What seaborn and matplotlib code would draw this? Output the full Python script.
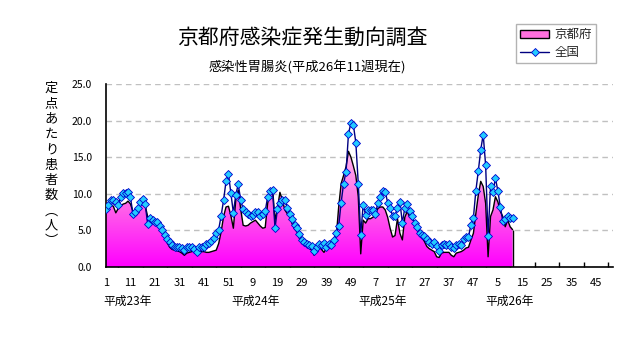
import numpy as np
import pandas as pd
import matplotlib
matplotlib.use('Agg')
import matplotlib.pyplot as plt
import seaborn as sns
from matplotlib.patches import Patch
from matplotlib.lines import Line2D
from matplotlib.colors import LinearSegmentedColormap
from matplotlib.ticker import MultipleLocator, FixedLocator, FixedFormatter
import matplotlib.transforms as mtransforms

sns.set_theme(style='white')
plt.rcParams['font.family'] = ['Noto Sans CJK JP', 'DejaVu Sans']

# ---------------- data ----------------
# 全国 (national), weekly from 平成23年 week 1 to 平成26年 week 11
national = [
    7.9, 8.5, 9.2, 9.1, 8.9, 8.5, 9.5, 10.1, 10.1, 10.3,
    9.5, 7.2, 7.5, 8.1, 8.9, 9.3, 8.6, 5.9, 6.7, 6.4,
    6.2, 6.1, 5.6, 5.0, 4.4, 3.8, 3.4, 3.0, 2.8, 2.7,
    2.8, 2.6, 2.3, 2.7, 2.8, 2.7, 2.5, 2.1, 2.8, 2.8,
    2.8, 3.1, 3.3, 3.5, 4.0, 4.7, 5.1, 7.0, 9.1, 11.7,
    12.7,
    10.1, 7.4, 9.9, 11.3, 9.1, 7.9, 7.5, 7.3, 7.0,
    7.1, 7.5, 7.5, 6.9, 7.2, 7.6, 9.6, 10.4, 10.5, 5.3,
    7.9, 8.7, 9.1, 9.2, 8.1, 7.3, 6.5, 5.7, 5.3, 4.5,
    3.7, 3.4, 3.2, 3.0, 2.9, 2.2, 2.8, 3.1, 3.0, 3.3,
    2.8, 3.1, 3.0, 3.7, 4.7, 5.6, 8.8, 11.4, 13.0, 18.2,
    19.7, 19.4, 17.0, 11.4, 4.4, 8.5, 7.1, 7.8, 7.8, 7.8,
    7.2, 8.8, 9.6, 10.4, 10.3, 8.8, 8.1, 7.0, 7.0, 8.1,
    8.9, 6.0, 8.1, 8.6, 7.7, 6.9, 6.0, 5.5, 4.7, 4.4,
    4.3, 3.8, 3.4, 3.2, 3.4, 2.9, 2.2, 3.0, 3.1, 3.0,
    3.1, 2.8, 2.6, 3.0, 3.1, 3.0, 3.8, 4.1, 4.1, 5.8,
    6.7, 10.4, 13.1, 16.0, 18.1,
    13.9, 4.2, 11.0, 10.3, 12.1, 10.4, 8.2, 6.3, 6.6, 6.9, 6.7, 6.7,
]

# 京都府 (Kyoto prefecture)
kyoto = [
    7.4, 8.2, 8.5, 8.3, 7.4, 8.0, 8.3, 8.6, 8.7, 9.0,
    8.6, 7.6, 7.6, 7.7, 8.5, 8.8, 8.4, 6.9, 6.7, 6.4,
    6.2, 5.9, 5.6, 4.8, 4.3, 3.3, 2.7, 2.4, 2.3, 2.2,
    2.1, 1.9, 1.6, 1.9, 2.0, 2.1, 2.2, 2.3, 2.2, 2.1,
    2.1, 2.0, 2.0, 2.1, 2.2, 2.3, 3.2, 4.8, 6.9, 8.2,
    8.3,
    7.0, 5.3, 9.2, 10.5, 7.9, 5.7, 5.6, 5.7, 6.0,
    6.2, 6.4, 6.0, 5.6, 5.3, 5.4, 8.7, 10.1, 10.8, 6.4,
    8.0, 10.2, 9.2, 7.8, 7.3, 6.9, 5.9, 5.2, 4.8, 3.9,
    3.2, 3.0, 2.8, 2.6, 2.3, 1.6, 2.6, 2.8, 2.4, 2.0,
    2.6, 2.8, 3.2, 3.6, 4.1, 8.2, 11.4, 12.5, 13.7, 15.8,
    15.0, 13.8, 12.5, 9.6, 1.8, 6.4, 6.0, 6.6, 6.6, 6.8,
    7.1, 8.0, 8.2, 8.2, 7.8, 6.8, 5.3, 4.1, 4.3, 6.6,
    4.6, 3.7, 6.8, 7.6, 6.8, 6.5, 6.2, 5.1, 4.4, 4.0,
    3.5, 2.8, 2.5, 2.3, 2.1, 1.4, 1.3, 1.9, 2.0, 2.0,
    2.0, 1.6, 1.4, 1.9, 2.0, 2.1, 2.3, 2.6, 2.7, 3.7,
    4.6, 7.3, 9.8, 11.7, 11.0,
    8.7, 1.4, 6.9, 7.8, 9.6, 8.9, 7.6, 6.9, 5.5, 6.4, 5.5, 5.1,
]

week_labels = ['1', '11', '21', '31', '41', '51', '9', '19', '29', '39', '49',
               '7', '17', '27', '37', '47', '5', '15', '25', '35', '45']
year_labels = ['平成23年', '平成24年', '平成25年', '平成26年']
weeks_per_year = 52
n_years = 4
series_names = ['京都府', '全国']
title = '京都府感染症発生動向調査'
subtitle = '感染性胃腸炎(平成26年11週現在)'
ylabel_chars = ['定', '点', 'あ', 'た', 'り', '患', '者', '数', '︵', '人', '︶']

df = pd.DataFrame({'idx': np.arange(len(national)),
                   'national': national,
                   'kyoto': kyoto})

# ---------------- figure ----------------
W, H = 632, 348
fig = plt.figure(figsize=(W / 100, H / 100), dpi=100)
fig.patch.set_facecolor('white')
L, R, T, B = 106, 613, 84, 267
ax = fig.add_axes([L / W, 1 - B / H, (R - L) / W, (B - T) / H])
ax.set_facecolor('white')

# Kyoto area with gradient
poly = ax.fill_between(df['idx'], df['kyoto'], 0, facecolor='none',
                       edgecolor='none', zorder=2)
grad = np.linspace(0, 1, 256).reshape(-1, 1)
cmap = LinearSegmentedColormap.from_list('pk', ['#FF00FF', '#FF66E8', '#FFC4EE'])
im = ax.imshow(grad, extent=[df['idx'].min(), df['idx'].max(), 0, 17],
               origin='lower', aspect='auto', cmap=cmap, zorder=2,
               interpolation='bilinear')
im.set_clip_path(poly.get_paths()[0], ax.transData)

sns.lineplot(data=df, x='idx', y='kyoto', color='black', lw=1.0,
             ax=ax, zorder=3, sort=False)
ax.vlines(df['idx'].iloc[-1], 0, df['kyoto'].iloc[-1], color='black',
          lw=1.0, zorder=3)

# National line with markers
sns.lineplot(data=df, x='idx', y='national', color='#000080', lw=1.0,
             marker='D', markersize=4.2, markerfacecolor='#22CCFF',
             markeredgecolor='#0000CC', markeredgewidth=0.6,
             ax=ax, zorder=4, sort=False)

# axes
n_cat = weeks_per_year * n_years
ax.set_xlim(0, n_cat - 1)
ax.set_ylim(0, 25)
ax.set_xlabel('')
ax.set_ylabel('')

ax.yaxis.set_major_locator(MultipleLocator(5))
ax.yaxis.set_major_formatter(matplotlib.ticker.FormatStrFormatter('%.1f'))
ax.yaxis.grid(True, linestyle=(0, (4, 3)), color='#C0C0C0', lw=1.0)
ax.xaxis.grid(False)
ax.set_axisbelow(True)

xt = np.arange(0, 10 * len(week_labels), 10)
ax.xaxis.set_major_locator(FixedLocator(xt))
ax.xaxis.set_major_formatter(FixedFormatter(week_labels))
ax.xaxis.set_minor_locator(MultipleLocator(5))

for s in ['top', 'right']:
    ax.spines[s].set_visible(False)
for s in ['left', 'bottom']:
    ax.spines[s].set_color('black')
    ax.spines[s].set_linewidth(1.2)

ax.tick_params(axis='x', which='both', direction='in', length=3.5,
               width=1, color='black', pad=8, labelsize=8, labelcolor='black')
ax.tick_params(axis='y', which='major', direction='in', length=3,
               width=1, color='black', pad=10, labelsize=7.5, labelcolor='black')
ax.tick_params(axis='x', which='minor', bottom=True)

# year labels
trans = mtransforms.blended_transform_factory(ax.transData, ax.transAxes)
for k, lab in enumerate(year_labels):
    ax.text(k * weeks_per_year - 1, -0.19, lab, transform=trans,
            ha='left', va='center', fontsize=8.5, color='black')

# titles
fig.text(302 / W, 1 - 38 / H, title, ha='center', va='center',
         fontsize=15, color='black')
fig.text(307 / W, 1 - 68 / H, subtitle, ha='center', va='center',
         fontsize=9.5, color='black')

# vertical y label
fig.text(51.5 / W, 1 - 82 / H, '\n'.join(ylabel_chars), ha='center', va='top',
         fontsize=9.5, linespacing=1.23, color='black')

# legend
handles = [Patch(facecolor='#FF6FDD', edgecolor='black', lw=1.0),
           Line2D([0], [0], color='#000080', lw=1.0, marker='D', markersize=4.2,
                  markerfacecolor='#22CCFF', markeredgecolor='#0000CC',
                  markeredgewidth=0.6)]
leg = fig.legend(handles, series_names, loc='upper left',
                 bbox_to_anchor=(516 / W, 1 - 24 / H), frameon=True,
                 fancybox=False, fontsize=9, handlelength=2.3,
                 handleheight=0.6, handletextpad=0.4, borderpad=0.35,
                 labelspacing=0.35, borderaxespad=0)
leg.get_frame().set_edgecolor('#A0A0A0')
leg.get_frame().set_linewidth(1.0)

fig.savefig('out.png', dpi=100, facecolor='white')
